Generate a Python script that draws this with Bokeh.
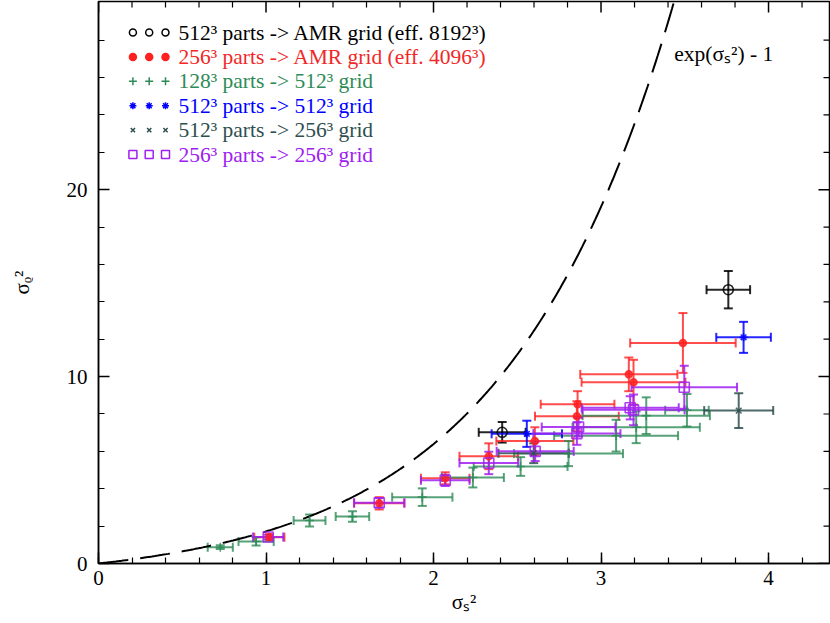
import numpy as np
from bokeh.plotting import figure
from bokeh.models import (ColumnDataSource, Whisker, TeeHead, FixedTicker,
                          SingleIntervalTicker, Label, Range1d)
from bokeh.embed import file_html
from bokeh.resources import INLINE

# ---------------- data ----------------
# 512^3 parts -> AMR grid (eff. 8192^3)
amr8192_x = [2.41, 3.76]
amr8192_y = [7.02, 14.65]
amr8192_xerr = [0.14, 0.13]
amr8192_yerr = [0.55, 1.00]

# 256^3 parts -> AMR grid (eff. 4096^3)
amr4096_x = [1.02, 1.676, 2.07, 2.33, 2.605, 2.856, 2.86, 3.166, 3.194, 3.489]
amr4096_y = [1.41, 3.22, 4.56, 5.74, 6.55, 7.88, 8.52, 10.12, 9.70, 11.80]
amr4096_xerr = [0.09, 0.15, 0.145, 0.175, 0.23, 0.25, 0.22, 0.29, 0.31, 0.315]
amr4096_yerr = [0.15, 0.33, 0.32, 0.69, 0.74, 0.80, 0.70, 0.90, 1.20, 1.60]

# 128^3 parts -> 512^3 grid
p128g512_x = [0.727, 0.941, 1.26, 1.516, 1.933, 2.235, 2.52, 2.806, 3.09, 3.21, 3.27, 3.513]
p128g512_y = [0.87, 1.18, 2.30, 2.51, 3.55, 4.60, 5.19, 5.88, 6.84, 7.29, 7.91, 8.20]
p128g512_xerr = [0.075, 0.105, 0.095, 0.10, 0.18, 0.185, 0.28, 0.325, 0.37, 0.38, 0.38, 0.13]
p128g512_yerr = [0.10, 0.22, 0.32, 0.28, 0.47, 0.53, 0.50, 0.67, 0.85, 0.85, 0.98, 0.87]

# 512^3 parts -> 512^3 grid
p512g512_x = [2.557, 3.851]
p512g512_y = [6.94, 12.10]
p512g512_xerr = [0.21, 0.163]
p512g512_yerr = [0.70, 0.83]

# 512^3 parts -> 256^3 grid
p512g256_x = [2.598, 3.822]
p512g256_y = [5.90, 8.18]
p512g256_xerr = [0.21, 0.206]
p512g256_yerr = [0.53, 0.93]

# 256^3 parts -> 256^3 grid
p256g256_x = [1.013, 1.676, 2.07, 2.33, 2.607, 2.856, 2.866, 3.174, 3.194, 3.497]
p256g256_y = [1.42, 3.25, 4.45, 5.38, 6.00, 6.95, 7.30, 8.33, 8.22, 9.43]
p256g256_xerr = [0.09, 0.15, 0.145, 0.175, 0.23, 0.26, 0.22, 0.29, 0.305, 0.315]
p256g256_yerr = [0.12, 0.25, 0.30, 0.60, 0.52, 0.60, 0.50, 0.62, 0.82, 1.15]

legend_labels = [
    "512\u00b3 parts -> AMR grid (eff. 8192\u00b3)",
    "256\u00b3 parts -> AMR grid (eff. 4096\u00b3)",
    "128\u00b3 parts -> 512\u00b3 grid",
    "512\u00b3 parts -> 512\u00b3 grid",
    "512\u00b3 parts -> 256\u00b3 grid",
    "256\u00b3 parts -> 256\u00b3 grid",
]

x_ticks_interval = 1
y_major_ticks = [0, 10, 20]
y_minor_ticks = [2, 4, 6, 8, 12, 14, 16, 18, 22, 24, 26, 28]
curve_label = "exp(\u03c3\u209b\u00b2) - 1"
x_label = "\u03c3\u209b\u00b2"
y_label = "\u03c3\u1d68\u00b2"

# ---------------- styling ----------------
FONT = "Liberation Serif"
styles = [
    dict(color="#000000", text="#000000", marker="circle", fill=False, size=10, alpha=0.85, lsize=7),
    dict(color="#ff2020", text="#f02828", marker="circle", fill=True, size=7, alpha=0.8, lsize=7),
    dict(color="#2e8b57", text="#2e8b57", marker="cross", fill=False, size=9, alpha=0.8, lsize=8),
    dict(color="#0000ff", text="#0000ff", marker="asterisk", fill=False, size=8, alpha=0.85, lsize=7),
    dict(color="#2f4f4f", text="#2f4f4f", marker="x", fill=False, size=8, alpha=0.85, lsize=6),
    dict(color="#a020f0", text="#a020f0", marker="square", fill=False, size=10, alpha=0.85, lsize=8),
]
series = [
    (amr8192_x, amr8192_y, amr8192_xerr, amr8192_yerr),
    (amr4096_x, amr4096_y, amr4096_xerr, amr4096_yerr),
    (p128g512_x, p128g512_y, p128g512_xerr, p128g512_yerr),
    (p512g512_x, p512g512_y, p512g512_xerr, p512g512_yerr),
    (p512g256_x, p512g256_y, p512g256_xerr, p512g256_yerr),
    (p256g256_x, p256g256_y, p256g256_xerr, p256g256_yerr),
]

X_END = 4.364
Y_END = 30.07

p = figure(width=830, height=616, output_backend="svg", toolbar_location=None,
           x_range=Range1d(0, X_END), y_range=Range1d(0, Y_END),
           min_border_left=98, min_border_right=1, min_border_top=1, min_border_bottom=50,
           outline_line_color="black", outline_line_width=1.5,
           background_fill_color="white", border_fill_color="white")
p.xgrid.visible = False
p.ygrid.visible = False

def style_axis(ax):
    ax.axis_line_color = "black"
    ax.axis_line_width = 1.5
    ax.major_tick_in = 11
    ax.major_tick_out = 0
    ax.minor_tick_in = 6
    ax.minor_tick_out = 0
    ax.major_tick_line_width = 1.5
    ax.minor_tick_line_width = 1.2
    ax.major_tick_line_color = "black"
    ax.minor_tick_line_color = "black"
    ax.major_label_text_font = FONT
    ax.major_label_text_font_size = "21px"
    ax.major_label_text_color = "black"
    ax.axis_label_text_font = FONT
    ax.axis_label_text_font_size = "21px"
    ax.axis_label_text_font_style = "normal"
    ax.axis_label_text_color = "black"

p.xaxis.ticker = SingleIntervalTicker(interval=x_ticks_interval, num_minor_ticks=5)
p.yaxis.ticker = FixedTicker(ticks=y_major_ticks, minor_ticks=y_minor_ticks)
for ax in p.xaxis:
    style_axis(ax)
    ax.major_label_standoff = 7
    ax.axis_label = x_label
    ax.axis_label_standoff = 2
for ax in p.yaxis:
    style_axis(ax)
    ax.major_label_standoff = 11
    ax.axis_label = y_label
    ax.axis_label_standoff = 30

# mirrored inward ticks on the top and right frame edges (half of each dash is clipped by the frame)
top_major = np.arange(0, X_END, x_ticks_interval)
top_minor = np.array([v for v in np.arange(0, X_END, x_ticks_interval / 5) if abs(v - round(v)) > 1e-6])
right_major = np.array(y_major_ticks, dtype=float)
right_minor = np.array(y_minor_ticks, dtype=float)
p.scatter(top_major, np.full(len(top_major), Y_END), marker="dash", angle=np.pi / 2, size=22,
          line_color="black", line_width=1.5)
p.scatter(top_minor, np.full(len(top_minor), Y_END), marker="dash", angle=np.pi / 2, size=12,
          line_color="black", line_width=1.2)
p.scatter(np.full(len(right_major), X_END), right_major, marker="dash", size=22,
          line_color="black", line_width=1.5)
p.scatter(np.full(len(right_minor), X_END), right_minor, marker="dash", size=12,
          line_color="black", line_width=1.2)

# model curve exp(s^2) - 1
cx = np.linspace(0, 3.45, 400)
p.line(cx, np.exp(cx) - 1, line_color="black", line_width=2, line_dash="30 12")

# error bars + markers
for (sx, sy, sxe, sye), st in zip(series, styles):
    sx = np.array(sx); sy = np.array(sy); sxe = np.array(sxe); sye = np.array(sye)
    src = ColumnDataSource(dict(x=sx, y=sy, xl=sx - sxe, xu=sx + sxe, yl=sy - sye, yu=sy + sye))
    for dim, base, lo, up in (("width", "y", "xl", "xu"), ("height", "x", "yl", "yu")):
        w = Whisker(source=src, base=base, lower=lo, upper=up, dimension=dim,
                    line_color=st["color"], line_width=2, line_alpha=st["alpha"],
                    lower_head=TeeHead(size=9, line_color=st["color"], line_width=2, line_alpha=st["alpha"]),
                    upper_head=TeeHead(size=9, line_color=st["color"], line_width=2, line_alpha=st["alpha"]))
        p.add_layout(w)
for (sx, sy, sxe, sye), st in zip(series, styles):
    p.scatter(sx, sy, marker=st["marker"], size=st["size"], line_color=st["color"],
              line_width=1.6, fill_color=st["color"] if st["fill"] else None,
              line_alpha=st["alpha"], fill_alpha=st["alpha"])

# legend (hand built: three markers + coloured text per row)
PX_PER_X = 167.5
PX_PER_Y = 18.69
X0_PX, Y0_PX = 98.3, 563.0
def dx(px):
    return (px - X0_PX) / PX_PER_X
def dy(py):
    return (Y0_PX - py) / PX_PER_Y
LEG_MARK_PX = [132.7, 149.0, 165.3]
LEG_TEXT_PX = 178.3
LEG_ROW0_PX = 32.0
LEG_ROW_STEP = 24.4
for i, (lab, st) in enumerate(zip(legend_labels, styles)):
    row = LEG_ROW0_PX + i * LEG_ROW_STEP
    p.scatter([dx(v) for v in LEG_MARK_PX], [dy(row)] * 3, marker=st["marker"], size=st["lsize"],
              line_color=st["color"], line_width=1.5,
              fill_color=st["color"] if st["fill"] else None)
    p.add_layout(Label(x=dx(LEG_TEXT_PX), y=dy(row), text=lab, text_color=st["text"],
                       text_font=FONT, text_font_size="21.5px", text_baseline="middle"))

p.add_layout(Label(x=dx(674), y=dy(53), text=curve_label, text_color="black",
                   text_font=FONT, text_font_size="21.5px", text_baseline="alphabetic"))

open("out.html", "w").write(file_html(p, INLINE))
